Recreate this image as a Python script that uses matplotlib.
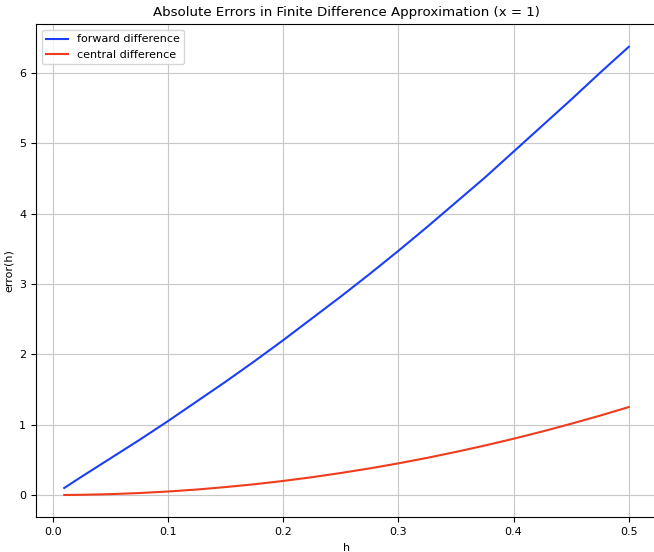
import matplotlib
matplotlib.use('Agg')
import matplotlib.pyplot as plt

# step sizes and absolute errors
h = [0.01, 0.025, 0.05, 0.075, 0.10, 0.125, 0.15, 0.175, 0.20, 0.225, 0.25,
     0.275, 0.30, 0.325, 0.35, 0.375, 0.40, 0.425, 0.45, 0.475, 0.50]
forward_err = [0.10, 0.26, 0.52, 0.78, 1.05, 1.33, 1.61, 1.90, 2.20, 2.51, 2.82,
               3.14, 3.47, 3.81, 4.16, 4.51, 4.88, 5.25, 5.62, 6.00, 6.37]
central_err = [0.0005, 0.003, 0.0125, 0.028, 0.05, 0.078, 0.113, 0.153, 0.20, 0.253, 0.313,
               0.378, 0.45, 0.528, 0.613, 0.703, 0.80, 0.903, 1.013, 1.128, 1.25]

plt.rcParams['font.size'] = 8

fig = plt.figure(figsize=(6.54, 5.52), dpi=100)
ax = fig.add_axes([36/654, 34.6/552, 621/654, 493/552])

ax.plot(h, forward_err, color='#1a3ff5', label='forward difference')
ax.plot(h, central_err, color='#f03c1e', label='central difference')

ax.set_title('Absolute Errors in Finite Difference Approximation (x = 1)', fontsize=9.6)
ax.set_xlabel('h')
ax.set_ylabel('error(h)')
ax.grid(True, color='#c8c8c8')
ax.legend(loc='upper left')

fig.savefig('out.png', dpi=100)
